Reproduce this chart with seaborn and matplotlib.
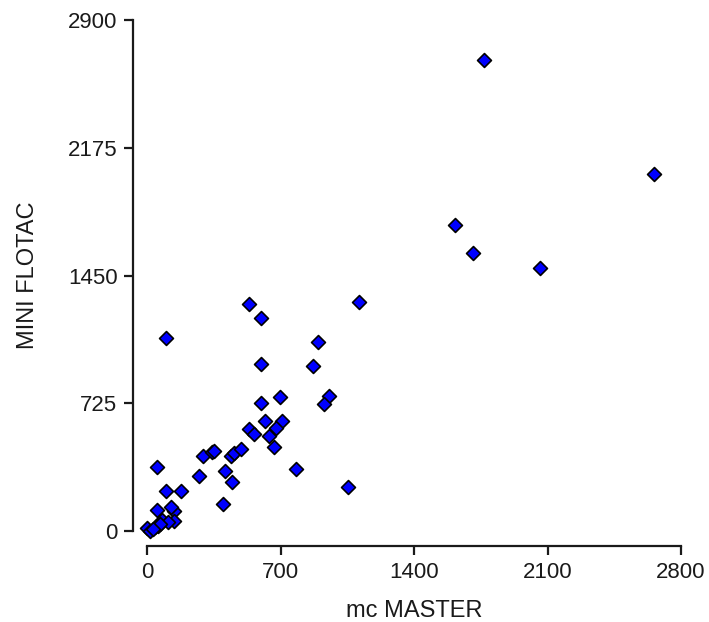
import matplotlib
matplotlib.use("Agg")
import matplotlib.pyplot as plt
import seaborn as sns
import pandas as pd

mc_master = [1767, 2659, 1615, 1709, 2061, 1110, 535, 596, 98, 895,
             596, 869, 699, 953, 926, 596, 617, 710, 675, 535,
             561, 640, 664, 780, 1054, 295, 342, 353, 440, 458,
             493, 409, 446, 272, 399, 52, 98, 180, 52, 143,
             128, 77, 140, 112, 60, 42, 70, 0, 16, 33]
mini_flotac = [2673, 2026, 1737, 1578, 1493, 1298, 1287, 1211, 1097, 1074,
               950, 936, 762, 766, 721, 725, 624, 626, 586, 577,
               549, 541, 475, 352, 250, 426, 450, 452, 426, 441,
               464, 341, 276, 313, 151, 364, 227, 227, 117, 116,
               135, 63, 54, 52, 26, 24, 40, 15, 2, 14]
x_ticks = [0, 700, 1400, 2100, 2800]
y_ticks = [0, 725, 1450, 2175, 2900]

df = pd.DataFrame({"mc MASTER": mc_master, "MINI FLOTAC": mini_flotac})

sns.set_style("ticks")
plt.rcParams["font.family"] = ["Liberation Sans", "DejaVu Sans"]

fig = plt.figure(figsize=(7.09, 6.22), dpi=100)
ax = fig.add_axes([147 / 709, 91 / 622, 534 / 709, 511 / 622])

sns.scatterplot(data=df, x="mc MASTER", y="MINI FLOTAC", ax=ax, marker="D",
                s=50, color="#0000FF", edgecolor="black", linewidth=1.2,
                clip_on=False, zorder=3)

ax.set_xlim(0, 2800)
ax.set_ylim(0, 2900)
ax.set_xticks(x_ticks)
ax.set_yticks(y_ticks)
ax.set_xticklabels([str(v) for v in x_ticks])
ax.set_yticklabels([str(v) for v in y_ticks])

for side in ["top", "right"]:
    ax.spines[side].set_visible(False)
ax.spines["left"].set_position(("outward", 14 * 0.72))
ax.spines["bottom"].set_position(("outward", 15 * 0.72))
for side in ["left", "bottom"]:
    ax.spines[side].set_linewidth(1.6)
    ax.spines[side].set_color("#1a1a1a")

ax.tick_params(axis="both", length=6.2, width=1.6, color="#1a1a1a",
               labelsize=16, labelcolor="#1a1a1a")
ax.tick_params(axis="x", pad=5)
ax.tick_params(axis="y", pad=5)

ax.set_xlabel("mc MASTER", fontsize=17, color="#1a1a1a")
ax.set_ylabel("MINI FLOTAC", fontsize=17, color="#1a1a1a")
ax.xaxis.set_label_coords(414 / 709, 1 - 600 / 622, transform=fig.transFigure)
ax.yaxis.set_label_coords(39 / 709, 0.5, transform=ax.transAxes)
ax.yaxis.label.set_transform(
    matplotlib.transforms.blended_transform_factory(fig.transFigure, ax.transAxes))

fig.savefig("out.png", dpi=100)
